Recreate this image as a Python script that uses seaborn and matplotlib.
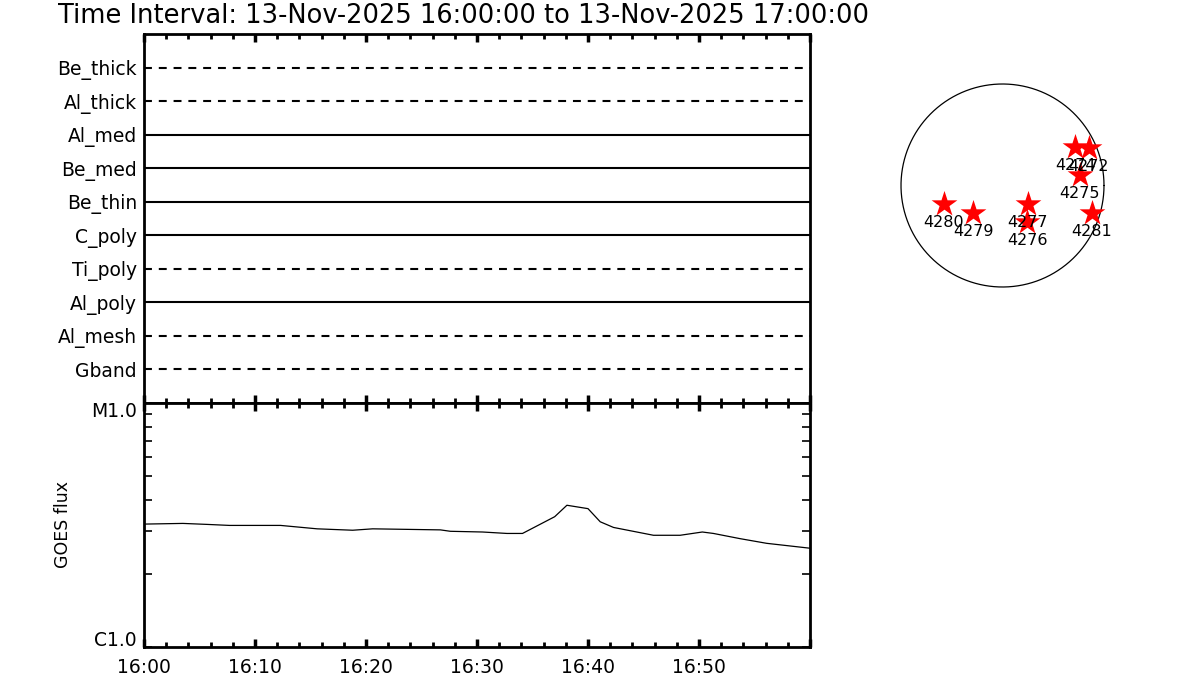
import numpy as np
import pandas as pd
import matplotlib
matplotlib.use("Agg")
import matplotlib.pyplot as plt
import matplotlib.transforms as mtransforms
from matplotlib.ticker import FixedLocator, NullFormatter, FixedFormatter
import seaborn as sns

sns.set_theme(style="white")
plt.rcParams['font.family'] = ['DejaVu Sans']
plt.rcParams['text.color'] = 'black'
plt.rcParams['axes.labelcolor'] = 'black'
plt.rcParams['xtick.color'] = 'black'
plt.rcParams['ytick.color'] = 'black'

# ---------------- data ----------------
title = "Time Interval: 13-Nov-2025 16:00:00 to 13-Nov-2025 17:00:00"
channels = ["Be_thick", "Al_thick", "Al_med", "Be_med", "Be_thin",
            "C_poly", "Ti_poly", "Al_poly", "Al_mesh", "Gband"]
channel_dashed = [True, True, False, False, False, False, True, False, True, True]

goes_minutes = [0.1, 3.5, 5.7, 7.7, 12.3, 15.6, 18.8, 20.6, 26.7, 27.6, 30.5, 32.7,
                34.1, 37.0, 38.1, 40.0, 41.1, 42.3, 45.9, 48.3, 50.3, 51.3, 53.7,
                56.1, 60.0]
goes_flux = [3.19e-6, 3.21e-6, 3.18e-6, 3.15e-6, 3.15e-6, 3.05e-6, 3.01e-6, 3.05e-6,
             3.02e-6, 2.98e-6, 2.96e-6, 2.92e-6, 2.92e-6, 3.42e-6, 3.81e-6, 3.69e-6,
             3.26e-6, 3.09e-6, 2.87e-6, 2.87e-6, 2.96e-6, 2.92e-6, 2.78e-6, 2.66e-6,
             2.54e-6]

time_tick_minutes = [0, 10, 20, 30, 40, 50]
time_tick_labels = ["16:00", "16:10", "16:20", "16:30", "16:40", "16:50"]
flux_tick_values = [1e-6, 1e-5]
flux_tick_labels = ["C1.0", "M1.0"]

ar_numbers = ["4280", "4279", "4277", "4276", "4274", "4272", "4275", "4281"]
ar_x = [-553, -279, 241, 232, 686, 818, 733, 846]
ar_y = [-175, -260, -175, -345, 364, 355, 99, -260]
solar_radius = 960.0

# ---------------- figure ----------------
fig = plt.figure(figsize=(12, 7), dpi=100)
W, H = 1200, 700

def ax_rect(x0, y0, x1, y1):
    return [x0 / W, 1 - y1 / H, (x1 - x0) / W, (y1 - y0) / H]

ax1 = fig.add_axes(ax_rect(144, 34, 810, 403))
ax2 = fig.add_axes(ax_rect(144, 403, 810, 647))
ax3 = fig.add_axes(ax_rect(880, 60, 1130, 310))

fig.text(58 / W, 1 - 16 / H, title, fontsize=18.5, ha="left", va="center",
         color="black")

# upper panel
n = len(channels)
for i, (name, dashed) in enumerate(zip(channels, channel_dashed)):
    yv = n - i
    ls = (0, (3.8, 3.3)) if dashed else "-"
    ax1.axhline(yv, color="black", lw=1.5, ls=ls)
ax1.set_ylim(0, n + 1)
ax1.set_xlim(0, 60)
ax1.set_yticks([n - i for i in range(n)])
ax1.set_yticklabels(channels, fontsize=13.5)
ax1.tick_params(axis="y", length=0, pad=5)
ax1.set_xticks(time_tick_minutes + [60])
ax1.set_xticklabels([])
ax1.xaxis.set_minor_locator(FixedLocator(np.arange(0, 61, 2)))
ax1.tick_params(axis="x", which="major", direction="in", top=True, bottom=True,
                length=6, width=2.5)
ax1.tick_params(axis="x", which="minor", direction="in", top=True, bottom=True,
                length=3.5, width=2)

# lower panel
df = pd.DataFrame({"minutes": goes_minutes, "flux": goes_flux})
sns.lineplot(data=df, x="minutes", y="flux", ax=ax2, color="black", lw=0.9)
ax2.set_yscale("log")
ax2.set_ylim(1e-6, 1e-5)
ax2.set_xlim(0, 60)
ax2.yaxis.set_major_locator(FixedLocator(flux_tick_values))
ax2.yaxis.set_major_formatter(FixedFormatter(flux_tick_labels))
ax2.yaxis.set_minor_locator(FixedLocator([k * 1e-6 for k in range(2, 10)]))
ax2.yaxis.set_minor_formatter(NullFormatter())
ax2.tick_params(axis="y", which="both", direction="in", left=True, right=True,
                length=6, width=1.2, labelsize=13.5, pad=5)
ax2.set_xticks(time_tick_minutes + [60])
ax2.set_xticklabels(time_tick_labels + [""], fontsize=13.5)
ax2.xaxis.set_minor_locator(FixedLocator(np.arange(0, 61, 2)))
ax2.tick_params(axis="x", which="major", direction="in", top=True, bottom=True,
                length=6, width=2.5, pad=8)
ax2.tick_params(axis="x", which="minor", direction="in", top=True, bottom=True,
                length=3.5, width=2)
ax2.set_xlabel("")
ax2.set_ylabel("GOES flux", fontsize=12.5, labelpad=14)

# nudge the C1.0 label up and the M1.0 label down, as in the reference
fig.canvas.draw()
for lbl in ax2.get_yticklabels():
    dy = 6 / 72 if lbl.get_text() == "C1.0" else -5 / 72
    lbl.set_transform(lbl.get_transform() +
                      mtransforms.ScaledTranslation(0, dy, fig.dpi_scale_trans))

for ax in (ax1, ax2):
    for s in ax.spines.values():
        s.set_visible(True)
        s.set_color("black")
        s.set_linewidth(2)

# solar disk panel
scale = solar_radius / 101.5  # arcsec per pixel
ax3.set_xlim((880 - 1002.5) * scale, (1130 - 1002.5) * scale)
ax3.set_ylim((185.5 - 310) * scale, (185.5 - 60) * scale)
ax3.set_aspect("equal")
ax3.axis("off")
theta = np.linspace(0, 2 * np.pi, 400)
ax3.plot(solar_radius * np.cos(theta), solar_radius * np.sin(theta), color="black", lw=0.9)
ar_df = pd.DataFrame({"x": ar_x, "y": ar_y, "ar": ar_numbers})
sns.scatterplot(data=ar_df, x="x", y="y", ax=ax3, marker="*", s=380, color="red",
                edgecolor="red", linewidth=0, zorder=3)
for xv, yv, lab in zip(ar_x, ar_y, ar_numbers):
    ax3.annotate(lab, (xv, yv), xytext=(0, -13.5), textcoords="offset points",
                 ha="center", va="center", fontsize=11.5, color="black", zorder=4)
ax3.set_xlabel("")
ax3.set_ylabel("")

fig.savefig("out.png", dpi=100, facecolor="white")
